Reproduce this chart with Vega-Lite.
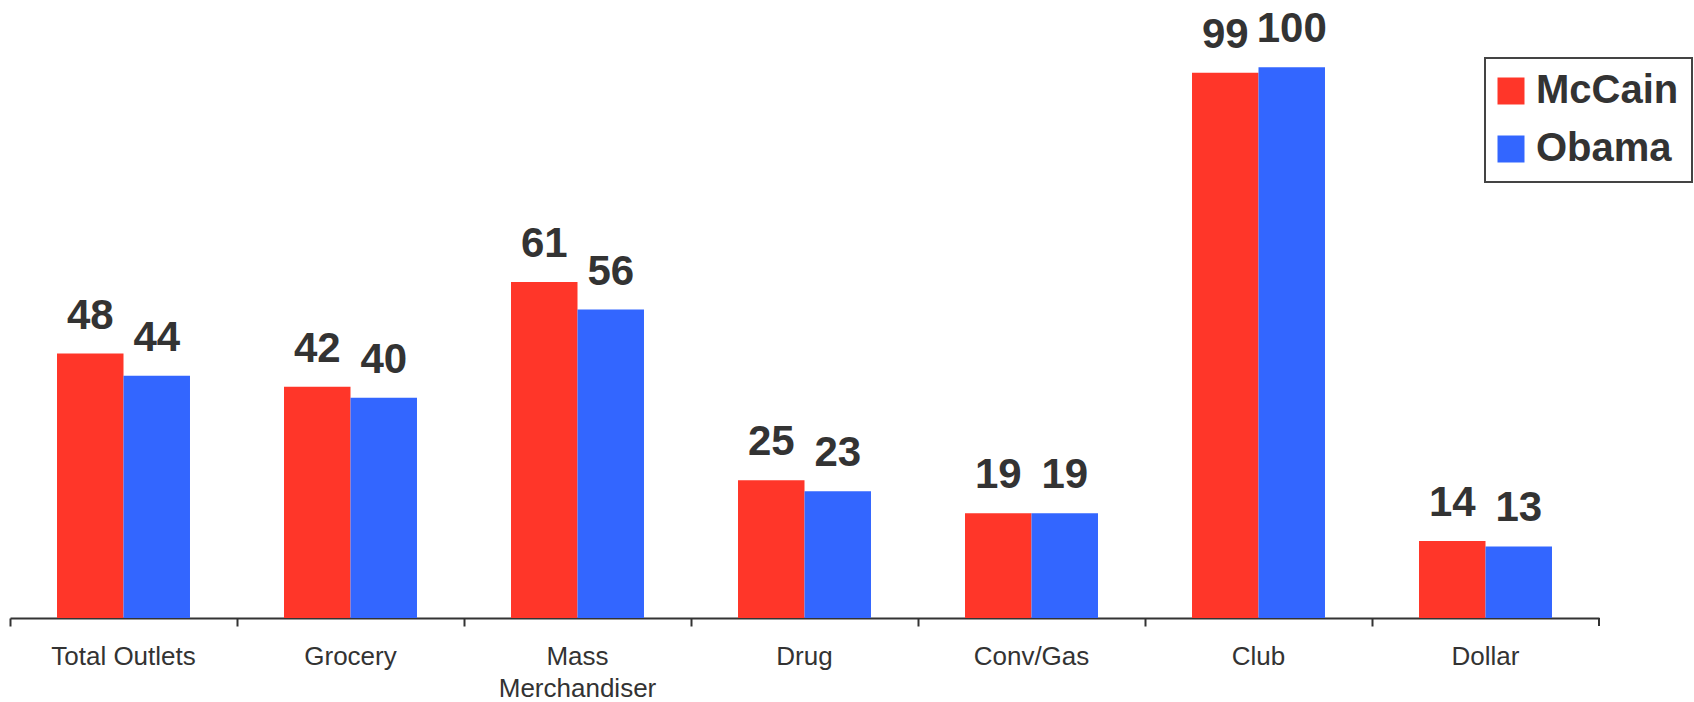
{
  "$schema": "https://vega.github.io/schema/vega-lite/v6.json",
  "width": 1589,
  "height": 618,
  "autosize": {"type": "none"},
  "padding": {"left": 10, "top": 0, "right": 95, "bottom": 84},
  "background": "white",
  "config": {
    "view": {"stroke": null},
    "font": "Liberation Sans"
  },
  "datasets": {
    "share": [
      {"category": "Total Outlets", "candidate": "McCain", "index": 48},
      {"category": "Total Outlets", "candidate": "Obama", "index": 44},
      {"category": "Grocery", "candidate": "McCain", "index": 42},
      {"category": "Grocery", "candidate": "Obama", "index": 40},
      {"category": "Mass Merchandiser", "candidate": "McCain", "index": 61},
      {"category": "Mass Merchandiser", "candidate": "Obama", "index": 56},
      {"category": "Drug", "candidate": "McCain", "index": 25},
      {"category": "Drug", "candidate": "Obama", "index": 23},
      {"category": "Conv/Gas", "candidate": "McCain", "index": 19},
      {"category": "Conv/Gas", "candidate": "Obama", "index": 19},
      {"category": "Club", "candidate": "McCain", "index": 99},
      {"category": "Club", "candidate": "Obama", "index": 100},
      {"category": "Dollar", "candidate": "McCain", "index": 14},
      {"category": "Dollar", "candidate": "Obama", "index": 13}
    ],
    "lastCategory": [{"category": "Dollar", "base": 0}]
  },
  "layer": [
    {
      "data": {"name": "share"},
      "mark": {"type": "bar"},
      "encoding": {
        "x": {
          "field": "category",
          "type": "nominal",
          "sort": null,
          "title": null,
          "scale": {"paddingInner": 0, "paddingOuter": 0},
          "axis": {
            "bandPosition": 0,
            "labelAngle": 0,
            "labelFontSize": 26,
            "labelColor": "#333333",
            "labelPadding": 17,
            "labelLineHeight": 32,
            "labelExpr": "datum.label == 'Mass Merchandiser' ? ['Mass', 'Merchandiser'] : datum.label",
            "domainColor": "#333333",
            "domainWidth": 2,
            "tickColor": "#333333",
            "tickWidth": 2,
            "tickSize": 8,
            "grid": false
          }
        },
        "xOffset": {
          "field": "candidate",
          "type": "nominal",
          "scale": {"paddingInner": 0, "paddingOuter": 0.707}
        },
        "y": {
          "field": "index",
          "type": "quantitative",
          "scale": {"domain": [0, 112.2], "nice": false},
          "axis": null
        },
        "color": {
          "field": "candidate",
          "type": "nominal",
          "scale": {"domain": ["McCain", "Obama"], "range": ["#FF3629", "#3366FF"]},
          "legend": {
            "title": null,
            "orient": "none",
            "legendX": 1475,
            "legendY": 58,
            "symbolType": "square",
            "symbolSize": 729,
            "symbolStrokeWidth": 0,
            "symbolOpacity": 1,
            "symbolOffset": -7,
            "labelFontSize": 40,
            "labelFontWeight": "bold",
            "labelColor": "#333333",
            "labelOffset": 5,
            "labelLimit": 400,
            "rowPadding": 18,
            "padding": 13,
            "strokeColor": "#444444",
            "fillColor": "white",
            "encode": {
              "legend": {"update": {"strokeWidth": {"value": 2}}}
            }
          }
        }
      }
    },
    {
      "data": {"name": "share"},
      "mark": {
        "type": "text",
        "baseline": "alphabetic",
        "align": "center",
        "dy": -25,
        "fontSize": 42,
        "fontWeight": "bold",
        "color": "#333333"
      },
      "encoding": {
        "x": {"field": "category", "type": "nominal", "sort": null},
        "xOffset": {"field": "candidate", "type": "nominal"},
        "y": {"field": "index", "type": "quantitative"},
        "text": {"field": "index", "type": "quantitative"}
      }
    },
    {
      "data": {"name": "lastCategory"},
      "mark": {"type": "rule", "color": "#333333", "strokeWidth": 2, "y2Offset": 8},
      "encoding": {
        "x": {"field": "category", "type": "nominal", "sort": null, "bandPosition": 1},
        "y": {"field": "base", "type": "quantitative"},
        "y2": {"field": "base"}
      }
    }
  ]
}
